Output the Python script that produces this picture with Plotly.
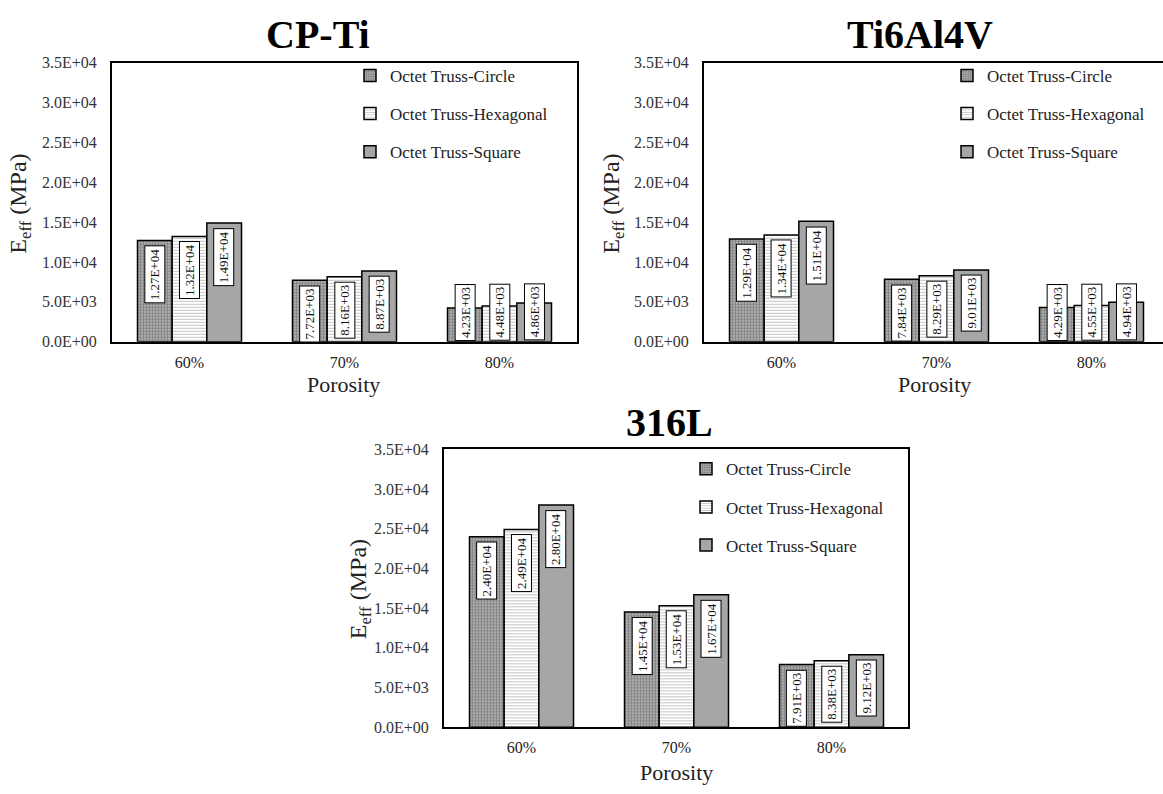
import plotly.graph_objects as go

# ---- data ----
porosity = ["60%", "70%", "80%"]
series_names = ["Octet Truss-Circle", "Octet Truss-Hexagonal", "Octet Truss-Square"]
materials = ["CP-Ti", "Ti6Al4V", "316L"]

cpti_circle = [12700, 7720, 4230]
cpti_hexagonal = [13200, 8160, 4480]
cpti_square = [14900, 8870, 4860]

ti64_circle = [12900, 7840, 4290]
ti64_hexagonal = [13400, 8290, 4550]
ti64_square = [15100, 9010, 4940]

ss316_circle = [24000, 14500, 7910]
ss316_hexagonal = [24900, 15300, 8380]
ss316_square = [28000, 16700, 9120]

ytick_vals = [0, 5000, 10000, 15000, 20000, 25000, 30000, 35000]
ytick_text = ["0.0E+00", "5.0E+03", "1.0E+04", "1.5E+04", "2.0E+04", "2.5E+04", "3.0E+04", "3.5E+04"]

panel_values = [
    [cpti_circle, cpti_hexagonal, cpti_square],
    [ti64_circle, ti64_hexagonal, ti64_square],
    [ss316_circle, ss316_hexagonal, ss316_square],
]

# ---- layout constants (pixels) ----
W, H = 1163, 794
FONT = "Liberation Serif"
YMAX = 35000
CAT_PX = 155.0
# plot boxes: left, right, top, bottom
boxes = [
    (112, 577, 56, 341),
    (704, 1163, 56, 341),
    (444, 908, 451, 735),
]
title_pos = [(318, 27), (920, 27), (669, 424)]
ytitle_pos = [(20, 200), (613, 200), (360, 594)]
xtitle_pos = [(344, 385), (934, 385), (676, 781)]
legend_pos = [(350, 51), (947, 51), (686, 453)]

bar_w = 0.2237
offsets = [-0.3355, -0.1118, 0.1118]

markers = [
    dict(color="white", line=dict(color="black", width=1.5),
         pattern=dict(shape=".", fgcolor="#111111", bgcolor="white", size=3, solidity=0.8)),
    dict(color="white", line=dict(color="black", width=1.5),
         pattern=dict(shape="-", fgcolor="#8a8a8a", bgcolor="white", size=3, solidity=0.35)),
    dict(color="#a6a6a6", line=dict(color="black", width=1.5)),
]

fig = go.Figure()
annotations = []
legend_keys = ["legend", "legend2", "legend3"]

for p in range(3):
    left, right, top, bottom = boxes[p]
    ax = "" if p == 0 else str(p + 1)
    xref, yref = "x" + ax, "y" + ax
    px_per_unit = (bottom - top) / YMAX

    for s in range(3):
        vals = panel_values[p][s]
        fig.add_trace(go.Bar(
            x=[0, 1, 2], y=vals, width=bar_w, offset=offsets[s],
            name=series_names[s], marker=markers[s],
            xaxis=xref, yaxis=yref,
            legend=legend_keys[p], legendgroup=f"{p}-{s}",
            showlegend=True,
        ))
        # value labels: rotated boxes near the top of each bar
        for c, v in enumerate(vals):
            xc = c + offsets[s] + bar_w / 2
            bar_px = v * px_per_unit
            if bar_px >= 62:
                ann_y, anchor, shift = v, "top", -5
            else:
                ann_y, anchor, shift = 0, "bottom", 1
            annotations.append(dict(
                x=xc, y=ann_y, xref=xref, yref=yref,
                text=f"{v:.2E}", textangle=-90, showarrow=False,
                yanchor=anchor, xanchor="center", yshift=shift,
                font=dict(family=FONT, size=13, color="#111"),
                bgcolor="white", bordercolor="black", borderwidth=1, borderpad=2,
            ))

    # x-axis range: 155 px per category, starting half a category before 60%
    span = (right - left) / CAT_PX
    xa = dict(
        domain=[left / W, right / W], range=[-0.5, -0.5 + span],
        tickvals=[0, 1, 2], ticktext=porosity, ticks="", showgrid=False, zeroline=False,
        showline=True, linecolor="black", linewidth=2, mirror=True,
        tickfont=dict(family=FONT, size=16, color="#222"), ticklabelstandoff=5,
        anchor=yref, fixedrange=True,
    )
    ya = dict(
        domain=[1 - bottom / H, 1 - top / H], range=[0, YMAX],
        tickvals=ytick_vals, ticktext=ytick_text, ticks="", showgrid=False, zeroline=False,
        showline=True, linecolor="black", linewidth=2, mirror=(p != 1),
        tickfont=dict(family=FONT, size=16, color="#333"), ticklabelstandoff=10,
        anchor=xref, fixedrange=True,
    )
    fig.layout["xaxis" + ax] = xa
    fig.layout["yaxis" + ax] = ya

    tx, ty = title_pos[p]
    annotations.append(dict(
        x=tx / W, y=1 - ty / H, xref="paper", yref="paper", text=f"<b>{materials[p]}</b>",
        showarrow=False, xanchor="center", yanchor="middle",
        font=dict(family=FONT, size=40, color="black"),
    ))
    yx, yy = ytitle_pos[p]
    annotations.append(dict(
        x=yx / W, y=1 - yy / H, xref="paper", yref="paper",
        text="E<sub>eff</sub> (MPa)", textangle=-90, showarrow=False,
        xanchor="center", yanchor="middle",
        font=dict(family=FONT, size=24, color="#222"),
    ))
    xx, xy = xtitle_pos[p]
    annotations.append(dict(
        x=xx / W, y=1 - xy / H, xref="paper", yref="paper", text="Porosity",
        showarrow=False, xanchor="center", yanchor="middle",
        font=dict(family=FONT, size=22, color="#222"),
    ))
    lx, ly = legend_pos[p]
    fig.layout[legend_keys[p]] = dict(
        x=lx / W, y=1 - ly / H, xanchor="left", yanchor="top",
        bgcolor="rgba(0,0,0,0)", tracegroupgap=13,
        font=dict(family=FONT, size=17, color="#222"),
    )

fig.update_layout(
    width=W, height=H, margin=dict(l=0, r=0, t=0, b=0),
    paper_bgcolor="white", plot_bgcolor="white",
    barmode="overlay", annotations=annotations,
    font=dict(family=FONT),
)

fig.write_html("out.html")
